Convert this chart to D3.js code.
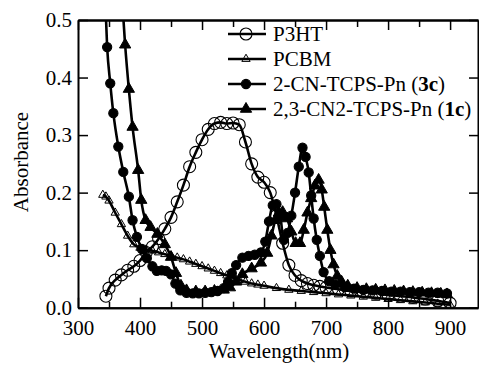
<!DOCTYPE html>
<html>
<head>
<meta charset="utf-8">
<script src="https://cdn.jsdelivr.net/npm/d3@7"></script>
<style>
  body { margin: 0; background: #fff; }
  svg, svg text { font-family: "Liberation Serif", "Times New Roman", "DejaVu Serif", serif !important; }
</style>
</head>
<body>
<script>
// values
const p3htWl = [345, 350, 360, 370, 380, 390, 400, 410, 420, 430, 440, 450, 460, 470, 480, 490, 500, 510, 520, 530, 540, 550, 560, 570, 580, 590, 600, 610, 620, 630, 640, 650, 660, 670, 680, 690, 700, 720, 740, 760, 780, 800, 820, 840, 860, 880, 900];
const p3htAbs = [0.020, 0.034, 0.048, 0.057, 0.065, 0.072, 0.082, 0.096, 0.106, 0.120, 0.137, 0.157, 0.184, 0.213, 0.245, 0.270, 0.292, 0.310, 0.320, 0.322, 0.320, 0.321, 0.318, 0.288, 0.250, 0.227, 0.218, 0.200, 0.160, 0.112, 0.074, 0.056, 0.047, 0.042, 0.039, 0.037, 0.035, 0.032, 0.029, 0.027, 0.025, 0.022, 0.020, 0.018, 0.015, 0.012, 0.008];

const pcbmWl = [340, 345, 350, 360, 370, 380, 390, 400, 410, 420, 430, 440, 450, 460, 470, 480, 490, 500, 510, 520, 530, 540, 550, 560, 570, 580, 590, 600, 620, 640, 660, 680, 700, 720, 740, 760, 780, 800, 820, 840, 860, 880, 900];
const pcbmAbs = [0.196, 0.193, 0.186, 0.165, 0.145, 0.125, 0.110, 0.104, 0.101, 0.099, 0.096, 0.093, 0.090, 0.087, 0.084, 0.080, 0.076, 0.072, 0.068, 0.064, 0.060, 0.056, 0.052, 0.048, 0.045, 0.042, 0.040, 0.038, 0.034, 0.031, 0.029, 0.027, 0.025, 0.023, 0.021, 0.019, 0.017, 0.015, 0.013, 0.011, 0.009, 0.007, 0.005];

const cn3cWl = [343, 347, 352, 357, 365, 373, 382, 388, 395, 403, 411, 420, 427, 435, 442, 450, 457, 465, 475, 485, 495, 505, 515, 525, 535, 542, 548, 555, 565, 575, 585, 595, 602, 608, 614, 620, 626, 632, 638, 644, 650, 656, 662, 667, 672, 676, 680, 685, 690, 696, 705, 715, 730, 745, 760, 775, 790, 805, 820, 835, 850, 865, 880, 895];
const cn3cAbs = [0.56, 0.453, 0.39, 0.338, 0.280, 0.236, 0.193, 0.152, 0.123, 0.102, 0.086, 0.072, 0.064, 0.065, 0.064, 0.058, 0.042, 0.030, 0.026, 0.025, 0.025, 0.026, 0.027, 0.029, 0.034, 0.045, 0.060, 0.074, 0.087, 0.090, 0.092, 0.096, 0.115, 0.150, 0.178, 0.180, 0.160, 0.118, 0.130, 0.160, 0.200, 0.245, 0.278, 0.262, 0.235, 0.195, 0.155, 0.118, 0.090, 0.062, 0.046, 0.040, 0.036, 0.033, 0.031, 0.030, 0.029, 0.028, 0.028, 0.027, 0.027, 0.026, 0.026, 0.025];

const cn1cWl = [368, 372, 376, 382, 388, 397, 402, 409, 417, 428, 440, 450, 458, 466, 475, 490, 505, 520, 535, 545, 555, 565, 580, 595, 605, 612, 618, 624, 630, 637, 644, 651, 658, 664, 670, 676, 682, 688, 693, 697, 702, 707, 712, 718, 725, 735, 750, 765, 780, 795, 810, 825, 840, 855, 870, 885, 895];
const cn1cAbs = [0.56, 0.52, 0.457, 0.38, 0.314, 0.239, 0.187, 0.152, 0.140, 0.128, 0.110, 0.088, 0.060, 0.038, 0.030, 0.028, 0.028, 0.029, 0.031, 0.035, 0.045, 0.058, 0.068, 0.078, 0.095, 0.125, 0.152, 0.165, 0.166, 0.155, 0.132, 0.112, 0.112, 0.135, 0.165, 0.190, 0.212, 0.222, 0.205, 0.175, 0.135, 0.100, 0.075, 0.055, 0.045, 0.038, 0.034, 0.032, 0.031, 0.030, 0.029, 0.028, 0.027, 0.026, 0.025, 0.024, 0.023];

const xTicks = [300, 400, 500, 600, 700, 800, 900];
const xMinor = [350, 450, 550, 650, 750, 850];
const yTicks = [0.0, 0.1, 0.2, 0.3, 0.4, 0.5];

const serif = "'Liberation Serif', 'Times New Roman', 'DejaVu Serif', serif";

function main() {
    const canvasWidth = 479;
    const canvasHeight = 365;
    const left = 78, right = 478, top = 20, bottom = 307.7;

    const svg = d3.select("body").append("svg")
        .attr("width", canvasWidth)
        .attr("height", canvasHeight)
        .attr("font-family", serif);

    const x = d3.scaleLinear().domain([300, 945]).range([left, right]);
    const y = d3.scaleLinear().domain([0, 0.5]).range([bottom, top]);

    svg.append("clipPath").attr("id", "plot")
        .append("rect")
        .attr("x", left).attr("y", top)
        .attr("width", right - left).attr("height", bottom - top);

    // axes, ticks inward
    svg.append("g")
        .attr("transform", "translate(0," + bottom + ")")
        .call(d3.axisBottom(x).tickValues(xTicks).tickSizeInner(-10).tickSizeOuter(0).tickPadding(12).tickFormat(d3.format("d")));
    svg.append("g")
        .attr("transform", "translate(0," + bottom + ")")
        .call(d3.axisBottom(x).tickValues(xMinor).tickSizeInner(-6).tickSizeOuter(0).tickFormat(""));
    svg.append("g")
        .attr("transform", "translate(0," + top + ")")
        .call(d3.axisTop(x).tickValues(xTicks).tickSizeInner(-10).tickSizeOuter(0).tickFormat(""));
    svg.append("g")
        .attr("transform", "translate(0," + top + ")")
        .call(d3.axisTop(x).tickValues(xMinor).tickSizeInner(-7).tickSizeOuter(0).tickFormat(""));
    svg.append("g")
        .attr("transform", "translate(" + left + ",0)")
        .call(d3.axisLeft(y).tickValues(yTicks).tickSizeInner(-10).tickSizeOuter(0).tickPadding(6).tickFormat(d3.format(".1f")));
    svg.append("g")
        .attr("transform", "translate(" + right + ",0)")
        .call(d3.axisRight(y).tickValues(yTicks).tickSizeInner(-9).tickSizeOuter(0).tickFormat(""));

    svg.selectAll("g").attr("font-family", serif);
    svg.selectAll(".domain").attr("stroke", "#000").attr("stroke-width", 2);
    svg.selectAll(".tick line").attr("stroke", "#000").attr("stroke-width", 1.5);
    svg.selectAll(".tick text")
        .attr("fill", "#000")
        .attr("font-size", 21);

    svg.append("text")
        .attr("x", 279).attr("y", 358)
        .attr("text-anchor", "middle")
        .attr("font-size", 21)
        .text("Wavelength(nm)");
    svg.append("text")
        .attr("transform", "translate(28,162) rotate(-90)")
        .attr("text-anchor", "middle")
        .attr("font-size", 21)
        .text("Absorbance");

    const series = [
        { wl: p3htWl, abs: p3htAbs, marker: "circle", fill: "none", size: 6 },
        { wl: pcbmWl, abs: pcbmAbs, marker: "triangle", fill: "none", size: 30 },
        { wl: cn3cWl, abs: cn3cAbs, marker: "circle", fill: "#000", size: 4.6 },
        { wl: cn1cWl, abs: cn1cAbs, marker: "triangle", fill: "#000", size: 55 }
    ];

    const line = d3.line()
        .x(d => x(d[0]))
        .y(d => y(d[1]))
        .curve(d3.curveMonotoneX);

    const plot = svg.append("g").attr("clip-path", "url(#plot)");

    series.forEach(s => {
        const pts = s.wl.map((w, i) => [w, s.abs[i]]);
        plot.append("path")
            .datum(pts)
            .attr("fill", "none")
            .attr("stroke", "#000")
            .attr("stroke-width", 2.6)
            .attr("d", line);
        drawMarkers(plot, pts.map(p => [x(p[0]), y(p[1])]), s);
    });

    // legend
    const legendNames = ["P3HT", "PCBM", "2-CN-TCPS-Pn (", "2,3-CN2-TCPS-Pn ("];
    const legendBold = ["", "", "3c", "1c"];
    const legendY = [34, 59, 84, 109];
    legendNames.forEach((name, i) => {
        svg.append("line")
            .attr("x1", 228).attr("x2", 266)
            .attr("y1", legendY[i]).attr("y2", legendY[i])
            .attr("stroke", "#000").attr("stroke-width", 2.6);
        drawMarkers(svg, [[246, legendY[i]]], series[i]);
        const t = svg.append("text")
            .attr("x", 273).attr("y", legendY[i] + 7)
            .attr("font-size", 21)
            .text(name);
        if (legendBold[i]) {
            t.append("tspan").attr("font-weight", "bold").text(legendBold[i]);
            t.append("tspan").text(")");
        }
    });
}

function drawMarkers(g, pts, s) {
    if (s.marker == "circle") {
        g.selectAll(null)
            .data(pts)
            .enter()
            .append("circle")
            .attr("cx", d => d[0])
            .attr("cy", d => d[1])
            .attr("r", s.size)
            .attr("fill", s.fill)
            .attr("stroke", "#000")
            .attr("stroke-width", 1.1);
    } else {
        const sym = d3.symbol().type(d3.symbolTriangle).size(s.size);
        g.selectAll(null)
            .data(pts)
            .enter()
            .append("path")
            .attr("transform", d => "translate(" + d[0] + "," + d[1] + ")")
            .attr("d", sym)
            .attr("fill", s.fill)
            .attr("stroke", "#000")
            .attr("stroke-width", 1);
    }
}

main();
</script>
</body>
</html>
